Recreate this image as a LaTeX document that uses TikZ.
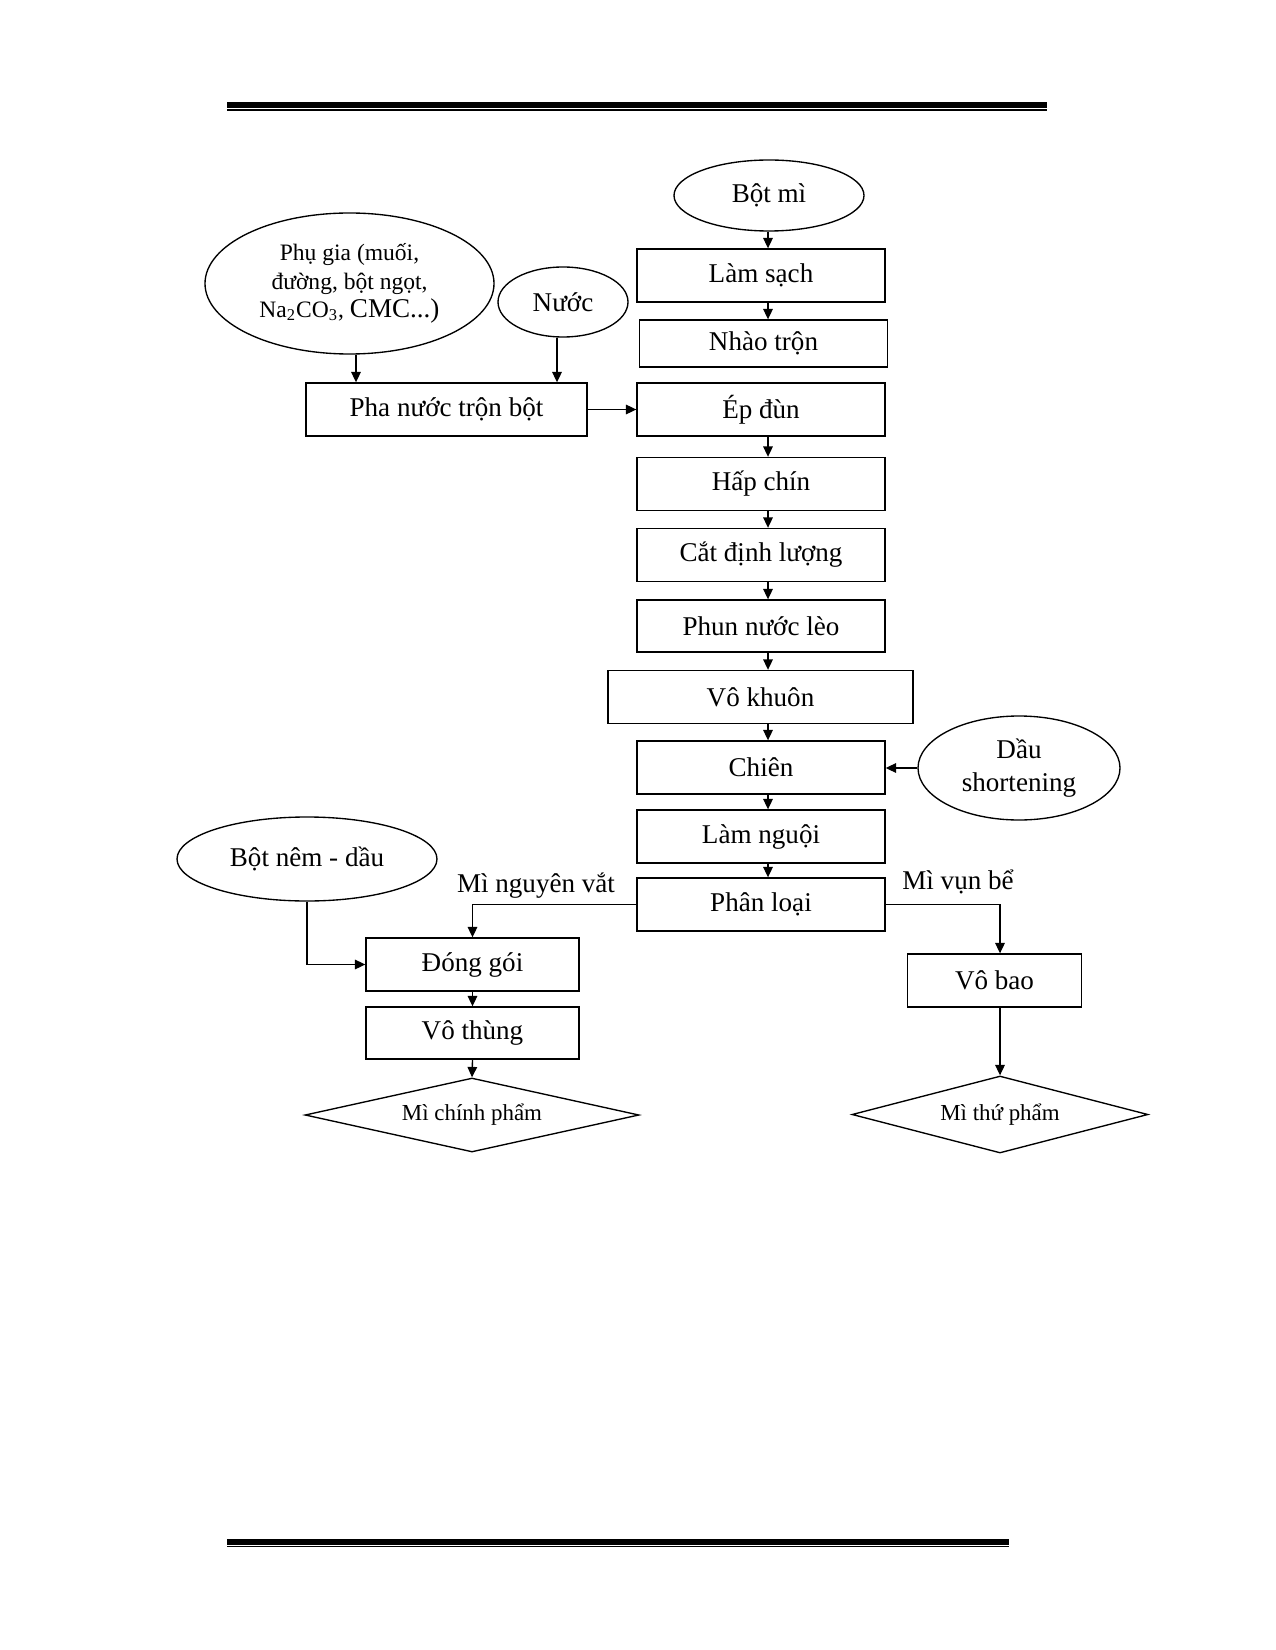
\documentclass[tikz,border=0pt]{standalone}
\usepackage{fontspec}
\setmainfont{Liberation Serif}
\usetikzlibrary{shapes.geometric,arrows.meta}
\newcommand{\pxu}{0.48pt}
\tikzset{
  base/.style={draw, line width=0.65pt, inner sep=0pt, font=\fontsize{13}{15.5}\selectfont, align=center},
  stepbox/.style={base, rectangle, minimum width=248*\pxu, minimum height=53*\pxu},
  oval/.style={base, ellipse},
  prod/.style={base, diamond, aspect=4.4, font=\fontsize{11}{13}\selectfont},
  flow/.style={line width=0.65pt, -{Triangle[length=5pt,width=4.6pt]}},
  lbl/.style={font=\fontsize{13}{15.5}\selectfont, inner sep=0pt, anchor=base}
}
\begin{document}
\begin{tikzpicture}[x=0.48pt,y=-0.48pt]
\useasboundingbox (0,0) rectangle (1275,1650);
% page rules
\fill (227,102) rectangle (1047,108);
\fill (227,109.3) rectangle (1047,110.7);
\fill (227,1539) rectangle (1009,1544.5);
\fill (227,1545.6) rectangle (1009,1547);

% axis coordinates
\coordinate (ax) at (768,0);
\coordinate (c1) at (356,0);
\coordinate (c2) at (557,0);
\coordinate (vbx) at (1000,0);

% main chain
\node[oval, minimum width=190*\pxu, minimum height=71*\pxu] (bm) at (769,195.5) {Bột mì};
\node[stepbox] (ls) at (761,275.5) {Làm sạch};
\node[stepbox, minimum height=47*\pxu] (nt) at (763.5,343.5) {Nhào trộn};
\node[stepbox] (ed) at (761,409.5) {Ép đùn};
\node[stepbox] (hc) at (761,484) {Hấp chín};
\node[stepbox] (cd) at (761,555) {Cắt định lượng};
\node[stepbox, minimum height=52*\pxu] (pn) at (761,626) {Phun nước lèo};
\node[stepbox, minimum width=305*\pxu] (vk) at (760.5,697) {Vô khuôn};
\node[stepbox] (ch) at (761,767.5) {Chiên};
\node[stepbox] (ln) at (761,836.5) {Làm nguội};
\node[stepbox] (pl) at (761,904.5) {Phân loại};

% side inputs
\node[oval, minimum width=202*\pxu, minimum height=104*\pxu] (dau) at (1019,768) {Dầu\\shortening};
\node[oval, minimum width=289*\pxu, minimum height=141*\pxu, font=\fontsize{11.3}{13.6}\selectfont] (pg) at (349.5,283.5)
  {Phụ gia (muối,\\đường, bột ngọt,\\Na\textsubscript{2}CO\textsubscript{3}, {\fontsize{13}{13.6}\selectfont CMC...)}};
\node[oval, minimum width=130*\pxu, minimum height=70*\pxu] (nuoc) at (563,302) {Nước};
\node[stepbox, minimum width=281*\pxu] (pha) at (446.5,409.5) {Pha nước trộn bột};

% left branch
\node[oval, minimum width=260*\pxu, minimum height=84*\pxu] (bn) at (307,859) {Bột nêm - dầu};
\node[stepbox, minimum width=213*\pxu] (dg) at (472.5,964.5) {Đóng gói};
\node[stepbox, minimum width=213*\pxu, minimum height=52*\pxu] (vt) at (472.5,1033) {Vô thùng};
\node[prod, minimum width=334*\pxu, minimum height=74*\pxu] (mcp) at (472,1115) {Mì chính phẩm};

% right branch
\node[stepbox, minimum width=174*\pxu] (vb) at (994.5,980.5) {Vô bao};
\node[prod, minimum width=296*\pxu, minimum height=77*\pxu] (mtp) at (1000,1114.5) {Mì thứ phẩm};

% branch labels
\node[lbl] (lnv) at (536,892) {Mì nguyên vắt};
\node[lbl] (lvb) at (958,889) {Mì vụn bể};

% connectors main chain
\draw[flow] (bm.south -| ax) -- (ls.north -| ax);
\draw[flow] (ls.south -| ax) -- (nt.north -| ax);
\draw[flow] (ed.south -| ax) -- (hc.north -| ax);
\draw[flow] (hc.south -| ax) -- (cd.north -| ax);
\draw[flow] (cd.south -| ax) -- (pn.north -| ax);
\draw[flow] (pn.south -| ax) -- (vk.north -| ax);
\draw[flow] (vk.south -| ax) -- (ch.north -| ax);
\draw[flow] (ch.south -| ax) -- (ln.north -| ax);
\draw[flow] (ln.south -| ax) -- (pl.north -| ax);

% inputs
\draw[flow] (pg.south -| c1) -- (pha.north -| c1);
\draw[flow] (nuoc.south -| c2) -- (pha.north -| c2);
\draw[flow] (pha.east) -- (ed.west);
\draw[flow] (dau.west) -- (ch.east |- dau.west);

% branches
\draw[flow] (pl.west) -| (dg.north);
\draw[flow] (pl.east) -| (vb.north -| vbx);
\draw[flow] (bn.south) |- (dg.west);
\draw[flow] (dg.south) -- (vt.north);
\draw[flow] (vt.south) -- (mcp.north);
\draw[flow] (vb.south -| vbx) -- (mtp.north);
\end{tikzpicture}
\end{document}
